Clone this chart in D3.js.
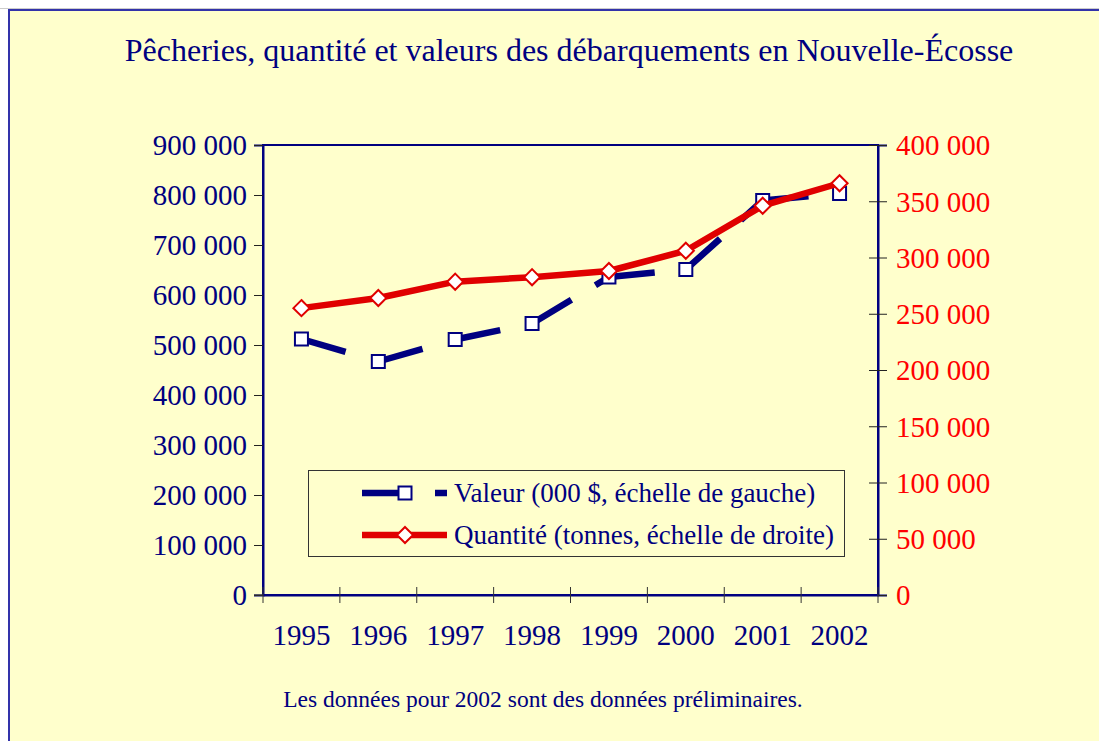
<!DOCTYPE html>
<html lang="fr">
<head>
    <meta charset="UTF-8">
    <title>Pêcheries - Nouvelle-Écosse</title>
    <style>
        body {
            margin: 0;
            padding: 0;
            background-color: #fff;
        }
        svg, svg text {
            display: block;
            font-family: 'Liberation Serif', 'Times New Roman', serif;
        }
    </style>
    <script src="https://d3js.org/d3.v7.min.js"></script>
</head>
<body>
    <div id="chart"></div>

    <script>
        // data
        var years = ['1995', '1996', '1997', '1998', '1999', '2000', '2001', '2002'];
        var valeur = [512000, 467000, 511000, 543000, 636000, 651000, 789000, 803000];   // 000 $
        var quantite = [255000, 264000, 278500, 282500, 288000, 306000, 346000, 366000]; // tonnes
        var leftTicks = [0, 100000, 200000, 300000, 400000, 500000, 600000, 700000, 800000, 900000];
        var rightTicks = [0, 50000, 100000, 150000, 200000, 250000, 300000, 350000, 400000];
        var seriesNames = ['Valeur (000 $, échelle de gauche)', 'Quantité (tonnes, échelle de droite)'];

        var W = 1099, H = 741;
        var navy = '#000080', red = '#e00000', bg = '#ffffcc';
        var serif = "'Liberation Serif', 'Times New Roman', serif";
        var plot = { left: 263, right: 878, top: 145, bottom: 595 };

        var svg = d3.select('#chart').append('svg')
            .attr('width', W)
            .attr('height', H);

        // page background with its frame
        svg.append('rect').attr('x', 0).attr('y', 0).attr('width', W).attr('height', H).attr('fill', '#fff');
        svg.append('line').attr('x1', 0).attr('x2', W).attr('y1', 8.5).attr('y2', 8.5)
            .attr('stroke', '#ccc').attr('stroke-width', 1);
        svg.append('rect').attr('x', 9).attr('y', 10).attr('width', W).attr('height', H)
            .attr('fill', bg).attr('stroke', '#3333aa').attr('stroke-width', 2);

        svg.append('text')
            .attr('x', 569).attr('y', 61)
            .attr('text-anchor', 'middle')
            .attr('fill', navy)
            .style('font-size', '32px')
            .text('Pêcheries, quantité et valeurs des débarquements en Nouvelle-Écosse');

        var x = d3.scaleBand().domain(years).range([plot.left, plot.right]);
        var yL = d3.scaleLinear().domain([0, 900000]).range([plot.bottom, plot.top]);
        var yR = d3.scaleLinear().domain([0, 400000]).range([plot.bottom, plot.top]);

        var fr = d3.formatLocale({ decimal: ',', thousands: '\u00a0', grouping: [3], currency: ['', ' $'] });
        var fmt = fr.format(',d');

        // plot frame (top and right edges)
        svg.append('rect')
            .attr('x', plot.left).attr('y', plot.top)
            .attr('width', plot.right - plot.left).attr('height', plot.bottom - plot.top)
            .attr('fill', 'none').attr('stroke', navy).attr('stroke-width', 2);

        // left axis
        var gL = svg.append('g').attr('transform', 'translate(' + plot.left + ',0)')
            .call(d3.axisLeft(yL).tickValues(leftTicks).tickFormat(fmt).tickSize(9).tickPadding(7))
            .attr('font-family', serif).attr('font-size', 29);
        gL.select('.domain').attr('stroke', navy).attr('stroke-width', 2);
        gL.selectAll('.tick line').attr('stroke', '#222').attr('stroke-width', 1);
        gL.selectAll('.tick text').attr('fill', navy).attr('dy', '0.34em');

        // right axis (ticks cross the line)
        var gR = svg.append('g').attr('transform', 'translate(' + plot.right + ',0)')
            .call(d3.axisRight(yR).tickValues(rightTicks).tickFormat(fmt).tickSize(9).tickPadding(9))
            .attr('font-family', serif).attr('font-size', 29);
        gR.select('.domain').attr('stroke', navy).attr('stroke-width', 2);
        gR.selectAll('.tick line').attr('x1', -9).attr('stroke', '#222').attr('stroke-width', 1);
        gR.selectAll('.tick text').attr('fill', '#ff0000').attr('dy', '0.34em');

        // bottom axis: labels at band centres, ticks at band edges
        var gB = svg.append('g').attr('transform', 'translate(0,' + plot.bottom + ')')
            .call(d3.axisBottom(x).tickSize(0).tickPadding(29))
            .attr('font-family', serif).attr('font-size', 29);
        gB.select('.domain').attr('stroke', navy).attr('stroke-width', 2);
        gB.selectAll('.tick text').attr('fill', navy);
        var edges = years.map(function (d) { return x(d); }).concat([plot.right]);
        gB.selectAll('.edge').data(edges).enter().append('line')
            .attr('x1', function (d) { return d; }).attr('x2', function (d) { return d; })
            .attr('y1', -8).attr('y2', 8)
            .attr('stroke', '#333').attr('stroke-width', 1);
        // small overshoot at the left like the original
        gB.append('line').attr('x1', plot.left - 9).attr('x2', plot.left).attr('y1', 0).attr('y2', 0)
            .attr('stroke', '#333').attr('stroke-width', 1);

        var cx = function (d, i) { return x(years[i]) + x.bandwidth() / 2; };

        // Valeur: long dash, pattern restarts at each segment
        var vPts = valeur.map(function (v, i) { return [cx(v, i), yL(v)]; });
        var segs = d3.pairs(vPts);
        svg.append('g').selectAll('line').data(segs).enter().append('line')
            .attr('x1', function (s) { return s[0][0]; }).attr('y1', function (s) { return s[0][1]; })
            .attr('x2', function (s) { return s[1][0]; }).attr('y2', function (s) { return s[1][1]; })
            .attr('stroke', navy).attr('stroke-width', 6.5)
            .attr('stroke-dasharray', '46,28');

        svg.append('g').selectAll('rect').data(vPts).enter().append('rect')
            .attr('x', function (p) { return p[0] - 6.5; }).attr('y', function (p) { return p[1] - 6.5; })
            .attr('width', 13).attr('height', 13)
            .attr('fill', '#fff').attr('stroke', navy).attr('stroke-width', 2);

        // Quantité: solid red line with diamonds
        var qLine = d3.line()
            .x(function (d, i) { return cx(d, i); })
            .y(function (d) { return yR(d); });
        svg.append('path').datum(quantite)
            .attr('d', qLine)
            .attr('fill', 'none').attr('stroke', red).attr('stroke-width', 6.5)
            .attr('stroke-linejoin', 'round');

        var diamond = d3.symbol().type(d3.symbolDiamond2).size(165);
        svg.append('g').selectAll('path').data(quantite).enter().append('path')
            .attr('d', diamond)
            .attr('transform', function (d, i) { return 'translate(' + cx(d, i) + ',' + yR(d) + ')'; })
            .attr('fill', '#fff').attr('stroke', red).attr('stroke-width', 2);

        // legend
        var lg = svg.append('g');
        lg.append('rect').attr('x', 308.5).attr('y', 470.5).attr('width', 536).attr('height', 86)
            .attr('fill', 'none').attr('stroke', '#333').attr('stroke-width', 1);
        var rows = [493, 535];
        lg.append('line').attr('x1', 362).attr('x2', 400).attr('y1', rows[0]).attr('y2', rows[0])
            .attr('stroke', navy).attr('stroke-width', 6.5);
        lg.append('line').attr('x1', 435).attr('x2', 447).attr('y1', rows[0]).attr('y2', rows[0])
            .attr('stroke', navy).attr('stroke-width', 6.5);
        lg.append('rect').attr('x', 398.5).attr('y', rows[0] - 6.5).attr('width', 13).attr('height', 13)
            .attr('fill', '#fff').attr('stroke', navy).attr('stroke-width', 2);
        lg.append('line').attr('x1', 362).attr('x2', 447).attr('y1', rows[1]).attr('y2', rows[1])
            .attr('stroke', red).attr('stroke-width', 6.5);
        lg.append('path').attr('d', diamond)
            .attr('transform', 'translate(405,' + rows[1] + ')')
            .attr('fill', '#fff').attr('stroke', red).attr('stroke-width', 2);
        lg.selectAll('text').data(seriesNames).enter().append('text')
            .attr('x', 454).attr('y', function (d, i) { return rows[i]; })
            .attr('dy', '0.34em')
            .attr('fill', navy)
            .style('font-size', '27px')
            .text(function (d) { return d; });

        // footnote
        svg.append('text')
            .attr('x', 543).attr('y', 707)
            .attr('text-anchor', 'middle')
            .attr('fill', navy)
            .style('font-size', '23.5px')
            .text('Les données pour 2002 sont des données préliminaires.');
    </script>
</body>
</html>
